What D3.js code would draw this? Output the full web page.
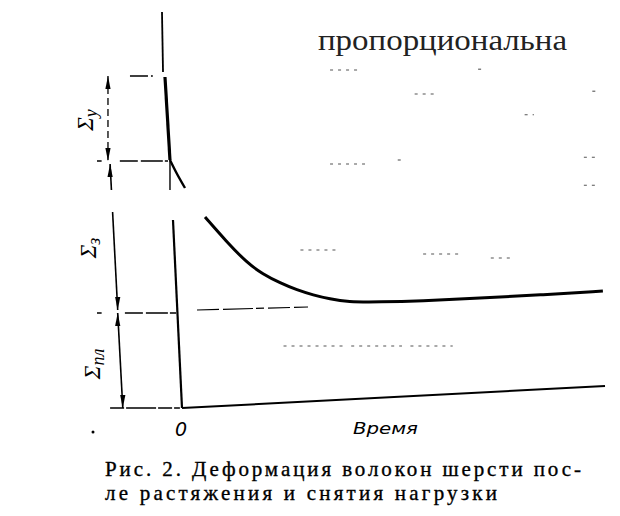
<!DOCTYPE html>
<html><head><meta charset="utf-8">
<script src="https://cdn.jsdelivr.net/npm/d3@7"></script>
<style>body{margin:0;background:#fff}svg{display:block}</style>
</head><body>
<svg id="c" width="620" height="516"></svg>
<script>
// ---- data (time t, deformation d) ----
const loadTop      = [[-0.473, 99], [-0.449, 84]];
const loadThick    = [[-0.402, 82.75], [-0.284, 62]];
const loadBend     = [[-0.284, 62], [-0.142, 59], [0.071, 55]];
const loadStub     = [[-0.284, 62], [-0.284, 54.5]];
const unloadDrop   = [[-0.213, 47], [0, 0]];
const plasticBase  = [[0, 0], [10, 5.5]];
const recoveryTime = [0.544, 1.04, 1.54, 1.91, 2.32, 2.72, 3.10, 3.50, 3.90, 4.68, 5.63, 7.04, 8.46, 9.95];
const recoveryDef  = [47.75, 41.75, 36.25, 33.5, 31.25, 29.5, 28.25, 27.25, 26.5, 26.5, 26.75, 27.5, 28.25, 29.25];
const levels       = [83, 61.75, 23.75, 0];           // elastic top, elastic bottom, plastic, zero
const guideFrom    = [-1.23, -1.47, -1.35, -1.70];
const guideTo      = [-0.69, -0.33, -0.14, -0.05];
const plasticGuide = [[0.355, 24.5], [2.98, 25.25]];
const dimLabels    = ["у", "з", "пл"];
const dimTop       = [[-1.75, 83], [-1.70, 61.0], [-1.52, 23.75]];
const dimBottom    = [[-1.75, 61.75], [-1.52, 24.5], [-1.40, 0]];
const dimLabelPos  = [[-2.10, 72], [-2.03, 40], [-1.95, 11]];
const gapLevels    = [54.5, 49];                       // blank band in the print
const xTickLabel   = "0";
const xAxisTitle   = "Время";
const bleedText    = "пропорциональна";
const caption      = ["Рис. 2. Деформация волокон шерсти пос-", "ле растяжения и снятия нагрузки"];
// faint print specks (t, d, length in t units)
const specks = [[3.5,84.5,0.75],[7.0,84.7,0.15],[5.5,78.5,0.55],[9.7,79.2,0.12],[8.1,73.3,0.22],
                [3.5,61,0.9],[5.1,62,0.1],[9.5,62.7,0.3],[9.5,55.7,0.3],[2.8,39.5,0.9],[5.7,38.5,0.9],
                [7.3,37.5,0.5],[2.4,15.5,1.4],[4.0,15.5,1.2],[5.4,15.5,1.0]];

// ---- scales ----
const x = d3.scaleLinear().domain([0, 10]).range([182, 605]);
const y = d3.scaleLinear().domain([0, 100]).range([408, 8]);
const svg = d3.select("#c");
const line = d3.line().x(d => x(d[0])).y(d => y(d[1]));
const curve = d3.line().x(d => x(d[0])).y(d => y(d[1])).curve(d3.curveMonotoneX);

// bleed-through text
svg.append("text").attr("x", 318).attr("y", 50)
  .attr("font-family", "Liberation Serif, DejaVu Serif, serif").attr("font-size", 29)
  .attr("fill", "#222").attr("textLength", 249).attr("lengthAdjust", "spacingAndGlyphs")
  .text(bleedText);

// specks
specks.forEach(s => svg.append("path").attr("d", line([[s[0], s[1]], [s[0] + s[2], s[1]]]))
  .attr("stroke", "#555").attr("stroke-width", 1.1).attr("stroke-dasharray", "3,5"));

// guide (dashed) lines at the levels
const g = svg.append("g").attr("stroke", "#000").attr("fill", "none");
levels.forEach((lv, i) => {
  g.append("path").attr("d", line([[guideFrom[i], lv], [guideTo[i], lv]]))
    .attr("stroke-width", 1.4).attr("stroke-dasharray", i === 3 ? "14,2,30,2" : "18,3,22,2");
});
g.append("path").attr("d", line(plasticGuide)).attr("stroke-width", 1.2)
  .attr("stroke-dasharray", "22,4,30,3,8,4");

// small extension ticks left of the dimension lines
[61.75, 23.75].forEach(lv => {
  g.append("path").attr("d", line([[-2.01, lv], [-1.90, lv]])).attr("stroke-width", 1.5);
});

// load / unload line
g.append("path").attr("d", line(loadTop)).attr("stroke-width", 1.8);
g.append("path").attr("d", line(loadThick)).attr("stroke-width", 3.2);
g.append("path").attr("d", curve(loadBend)).attr("stroke-width", 2.4);
g.append("path").attr("d", line(loadStub)).attr("stroke-width", 1.4);
g.append("path").attr("d", line(unloadDrop)).attr("stroke-width", 2.2);
g.append("path").attr("d", line(plasticBase)).attr("stroke-width", 2);

// recovery curve
const rec = recoveryTime.map((t, i) => [t, recoveryDef[i]]);
g.append("path").attr("d", d3.line().x(d => x(d[0])).y(d => y(d[1])).curve(d3.curveBasis)(rec))
  .attr("stroke-width", 3);

// dimension lines with arrows
function arrow(tip, dir) { // dir: +1 points up, -1 points down
  const [px, py] = [x(tip[0]), y(tip[1])];
  const L = 13, W = 2.6;
  return `M${px},${py} L${px - W},${py + dir * L} L${px + W},${py + dir * L} Z`;
}
dimTop.forEach((top, i) => {
  const bot = dimBottom[i];
  const segs = [];
  if (top[1] > gapLevels[0] && bot[1] < gapLevels[1]) {
    const f = v => top[0] + (bot[0] - top[0]) * (top[1] - v) / (top[1] - bot[1]);
    segs.push([top, [f(gapLevels[0]), gapLevels[0]]], [[f(gapLevels[1]), gapLevels[1]], bot]);
  } else segs.push([top, bot]);
  segs.forEach(s => g.append("path").attr("d", line(s))
    .attr("stroke-width", i === 0 ? 1.3 : 1.6)
    .attr("stroke-dasharray", i === 0 ? "7,4" : null));
  svg.append("path").attr("d", arrow(top, 1)).attr("fill", "#000");
  svg.append("path").attr("d", arrow(bot, -1)).attr("fill", "#000");
  const lp = dimLabelPos[i];
  const t = svg.append("text")
    .attr("transform", `translate(${x(lp[0])},${y(lp[1])}) rotate(-90)`)
    .attr("text-anchor", "middle").attr("font-family", "Liberation Serif, DejaVu Serif, serif")
    .attr("font-style", "italic").attr("font-size", 23);
  t.append("tspan").text("Σ");
  t.append("tspan").attr("font-size", 18).attr("dy", 4).text(dimLabels[i]);
});

// axis labels
svg.append("text").attr("x", x(0) - 1).attr("y", 436).attr("text-anchor", "middle")
  .attr("font-family", "DejaVu Sans, sans-serif").attr("font-style", "italic").attr("font-size", 19)
  .text(xTickLabel);
svg.append("text").attr("x", 353).attr("y", 434)
  .attr("font-family", "DejaVu Sans, sans-serif").attr("font-style", "italic").attr("font-size", 15)
  .attr("textLength", 65).attr("lengthAdjust", "spacingAndGlyphs").text(xAxisTitle);
svg.append("circle").attr("cx", 93).attr("cy", 432).attr("r", 1.5).attr("fill", "#000");

// caption
caption.forEach((c, i) => {
  svg.append("text").attr("x", 105).attr("y", 476 + i * 23.5)
    .attr("font-family", "Liberation Serif, DejaVu Serif, serif").attr("font-size", 21)
    .attr("stroke", "#000").attr("stroke-width", 0.35)
    .attr("textLength", i === 0 ? 476 : 392).attr("lengthAdjust", "spacing").text(c);
});
</script>
</body></html>
